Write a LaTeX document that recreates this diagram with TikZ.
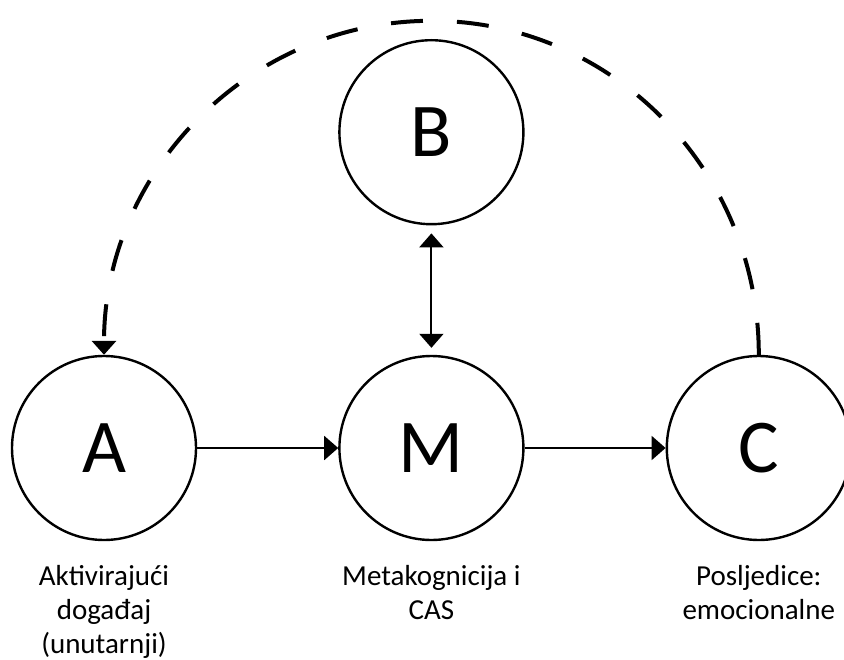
\documentclass[tikz,border=0pt]{standalone}
\usepackage{fontspec}
\setmainfont{Carlito}
\usetikzlibrary{arrows.meta,calc,positioning}

\tikzset{
  phase/.style={circle,draw,line width=1.2pt,minimum size=92pt,inner sep=0pt,font=\fontsize{38}{40}\selectfont},
  caption/.style={align=center,inner sep=0pt,font=\fontsize{14.5}{17}\selectfont}
}

\begin{document}
\begin{tikzpicture}[>={Triangle[length=7pt,width=12pt]},line width=1pt,node distance=70.5pt]
			\useasboundingbox (-52pt,-105.5pt) rectangle (370pt,224pt);
			\node[phase] (A) {A};
			\node[phase] [right= of A] (M) {M};
			\node[phase] [right= of M] (C) {C};
			\node[phase] [above=64.7pt of M] (B) {B};
			\node[caption] [below=11.5pt of A] (A_txt) {Aktivirajući\\događaj\\(unutarnji)};
			\node[caption] [below=11.5pt of M] (M_txt) {Metakognicija i\\CAS};
			\node[caption] [below=11.5pt of C] (C_txt) {Posljedice:\\emocionalne};
			\draw[->] (A) -- (M);
			\draw[->] (M) -- (C);
			\draw[<->,shorten <=3.5pt,shorten >=4pt] (M) -- (B);
			\draw[->,line width=2pt,dash pattern=on 16pt off 17pt]
			let \p1=(C.north), \p2=(A.north) in
			(\p1) arc[start angle=0,end angle=180,x radius={(\x1-\x2)/2},y radius=167pt];
		\end{tikzpicture}
\end{document}
